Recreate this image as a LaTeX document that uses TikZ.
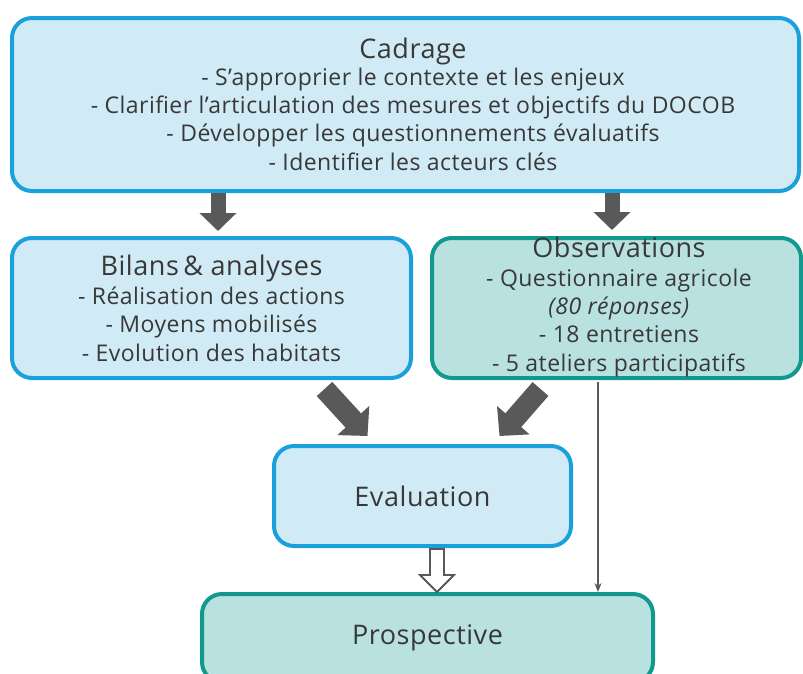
\documentclass[tikz,border=0pt]{standalone}
\usepackage{fontspec}
\setmainfont{Open Sans}[LetterSpace=2]
\usetikzlibrary{arrows.meta,calc}
\definecolor{bbord}{HTML}{1AA1DB}
\definecolor{bfill}{HTML}{D0EBF6}
\definecolor{tbord}{HTML}{12998D}
\definecolor{tfill}{HTML}{B9E1DF}
\definecolor{agray}{HTML}{595959}
\definecolor{txtc}{HTML}{383838}
\newcommand\ttlf[1]{{\fontsize{27}{30}\selectfont #1}}
\begin{document}
\begin{tikzpicture}[x=1pt,y=-1pt,
  box/.style={rounded corners=20pt, line width=4pt, align=center, text=txtc,
    font=\fontsize{23}{28.3}\selectfont, inner sep=0pt},
  bluebox/.style={box, draw=bbord, fill=bfill},
  tealbox/.style={box, draw=tbord, fill=tfill},
  plain/.style={align=center, text=txtc, font=\fontsize{23}{28.3}\selectfont, inner sep=0pt},
  blk/.style={draw=agray, line width=15pt, -{Triangle[width=36pt,length=18pt]}},
  diag/.style={draw=agray, line width=21pt, -{Triangle[width=42pt,length=21pt]}},
  thin/.style={draw=agray, line width=2pt, -{Stealth[length=9pt,width=7pt]}},
  hollow/.style={draw=agray, line width=1.8pt, fill=white, line join=miter}
]
\useasboundingbox (0,0) rectangle (803,673);

\node[bluebox, minimum width=787pt, minimum height=173pt] (cad) at (405.5,104.5) {};
\node[plain] (cadtxt) at (413,104)
 {\ttlf{Cadrage}\\[-1pt]
  - S’approprier le contexte et les enjeux\\
  - Clarifier l’articulation des mesures et objectifs du DOCOB\\
  - Développer les questionnements évaluatifs\\
  - Identifier les acteurs clés};

\node[bluebox, minimum width=399pt, minimum height=140pt] (bil) at (211.5,308)
 {\ttlf{Bilans\,\&\ analyses}\\[1pt]
  - Réalisation des actions\\
  - Moyens mobilisés\\
  - Evolution des habitats};

\node[tealbox, minimum width=369pt, minimum height=140pt] (obs) at (616.5,308) {};
\node[plain] (obstxt) at (619,307)
 {\ttlf{Observations}\\[0pt]
  - Questionnaire agricole\\
  \textit{(80 réponses)}\\
  - 18 entretiens\\
  - 5 ateliers participatifs};

\node[bluebox, minimum width=297pt, minimum height=100pt] (eva) at (422.5,496)
 {\ttlf{Evaluation}};

\node[tealbox, minimum width=451pt, minimum height=88pt] (pro) at (427.5,638)
 {\raisebox{4pt}{\ttlf{Prospective}}};

% arrows from Cadrage
\draw[blk] ([xshift=6.5pt]bil.north |- cad.south) -- ([xshift=6.5pt,yshift=5pt]bil.north);
\draw[blk] ([xshift=-4.5pt]obs.north |- cad.south) -- ([xshift=-4.5pt,yshift=6pt]obs.north);

% diagonal arrows to Evaluation
\draw[diag] ([xshift=113pt,yshift=-9pt]bil.south) -- ([xshift=-55pt,yshift=8pt]eva.north);
\draw[diag] ([xshift=-76pt,yshift=-9pt]obs.south) -- ([xshift=77pt,yshift=8pt]eva.north);

% thin arrow from Observations to Prospective
\draw[thin] ([xshift=-18.5pt,yshift=-2pt]obs.south) -- ([xshift=-18.5pt]obs.south |- pro.north);

% hollow arrow Evaluation -> Prospective
\coordinate (h0) at ([xshift=14.5pt,yshift=-1pt]eva.south);
\coordinate (h1) at ([xshift=14.5pt]eva.south |- pro.north);
\draw[hollow] ($(h0)+(-7,0)$) -- ($(h0)+(-7,26)$) -- ($(h0)+(-17,26)$) -- (h1)
  -- ($(h0)+(17,26)$) -- ($(h0)+(7,26)$) -- ($(h0)+(7,0)$) -- cycle;
\end{tikzpicture}
\end{document}
